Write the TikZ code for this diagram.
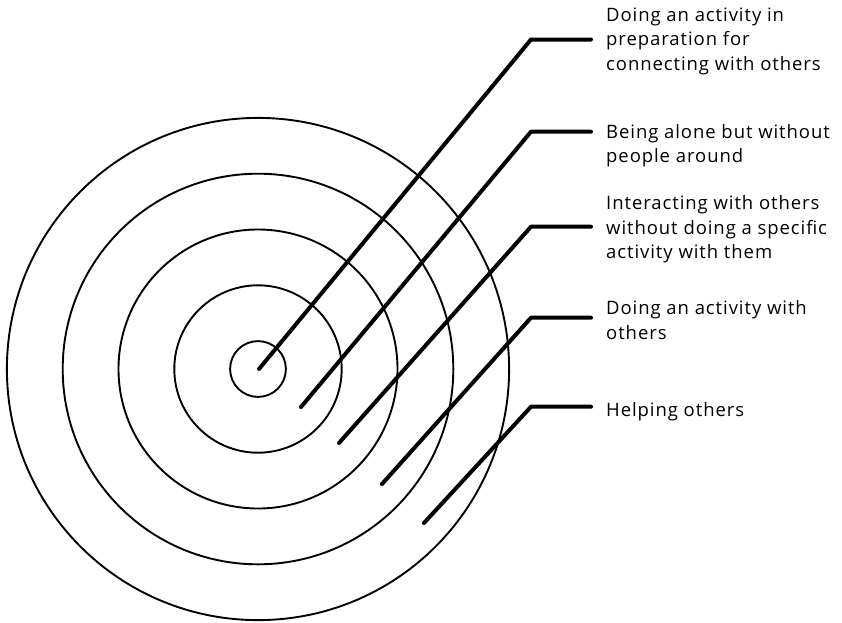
\documentclass[tikz,border=0pt]{standalone}
\usepackage{fontspec}
\setmainfont{Open Sans}
\newfontfamily\lblfont[LetterSpace=5]{Open Sans}
\usetikzlibrary{positioning}

\begin{document}
\begin{tikzpicture}[
    x=1pt, y=-1pt,
    ring/.style={line width=1.9pt},
    lead/.style={line width=4pt, line cap=round, line join=round},
    lbl/.style={anchor=base west, align=left, inner xsep=15pt, inner ysep=0pt,
                font=\lblfont\fontsize{18.5}{24.5}\selectfont}
]
\useasboundingbox (0,0) rectangle (842,622);
\coordinate (ctr) at (258,369);
\draw[ring] (ctr) circle[radius=27.9pt];
\draw[ring] (ctr) circle[radius=83.7pt];
\draw[ring] (ctr) circle[radius=139.5pt];
\draw[ring] (ctr) circle[radius=195.3pt];
\draw[ring] (ctr) circle[radius=251.1pt];

% label nodes sit on the baseline of their last line
\coordinate (s1) at (259,369);
\coordinate (k1) at (531,39.5);
\node[lbl] (l1) at (591,70) {Doing an activity in\\preparation for\\connecting with others};
\coordinate (s2) at (301,407);
\coordinate (k2) at (531,131.7);
\node[lbl] (l2) at (591,162.5) {Being alone but without\\people around};
\coordinate (s3) at (339,443);
\coordinate (k3) at (531,226.7);
\node[lbl] (l3) at (591,258.5) {Interacting with others\\without doing a specific\\activity with them};
\coordinate (s4) at (382,484);
\coordinate (k4) at (531,317.7);
\node[lbl] (l4) at (591,339) {Doing an activity with\\others};
\coordinate (s5) at (424,523);
\coordinate (k5) at (531,406.7);
\node[lbl] (l5) at (591,416.7) {Helping others};

\draw[lead] (s1) -- (k1) -- (k1 -| l1.west);
\draw[lead] (s2) -- (k2) -- (k2 -| l2.west);
\draw[lead] (s3) -- (k3) -- (k3 -| l3.west);
\draw[lead] (s4) -- (k4) -- (k4 -| l4.west);
\draw[lead] (s5) -- (k5) -- (k5 -| l5.west);
\end{tikzpicture}
\end{document}
